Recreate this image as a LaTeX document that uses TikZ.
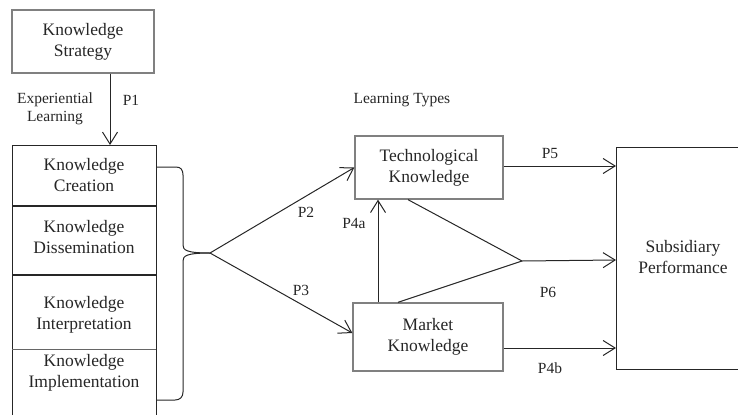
\documentclass[tikz,border=0pt]{standalone}
\usepackage{fontspec}
\setmainfont{Liberation Serif}
\usetikzlibrary{arrows.meta}
\begin{document}
\begin{tikzpicture}[x=1pt,y=-1pt,
  boxtext/.style={font=\fontsize{17.5}{21}\selectfont, align=center, text=black!85},
  graybox/.style={boxtext, draw=black!50, line width=1.3pt, inner sep=0pt},
  lbl/.style={font=\fontsize{15.5}{18}\selectfont, text=black!85},
  ln/.style={draw=black!85, line width=1pt},
  arr/.style={ln, -{Straight Barb[length=12pt,width=15pt,line width=1pt]}}]
\useasboundingbox (0,0) rectangle (738,415);

% top box
\node[graybox, minimum width=142pt, minimum height=63pt] (strat) at (83,41.5) {Knowledge\\Strategy};

% stacked knowledge-process column (open at the bottom)
\draw[ln] (12,415) -- (12,145) -- (156,145) -- (156,415);
\draw[ln, line width=1.4pt] (12,206) -- (156,206);
\draw[ln, line width=1.4pt] (12,275) -- (156,275);
\draw[draw=black!60, line width=0.9pt] (12,349) -- (156,349);
\coordinate (kbtop) at (110,145);
\node[boxtext] (create) at (84,175) {Knowledge\\Creation};
\node[boxtext] (dissem) at (84,237) {Knowledge\\Dissemination};
\node[boxtext] (interp) at (84,315) {Knowledge\\Interpretation};
\node[boxtext] (impl) at (84,373) {Knowledge\\Implementation};

% brace joining the four stages
\coordinate (j) at (210,253);
\draw[ln] (157,167) -- (176,167) .. controls (181,167) and (183,170) .. (183,175)
  -- (183,245) .. controls (183,250) and (186,253) .. (j);
\draw[ln] (j) .. controls (186,253) and (183,256) .. (183,261)
  -- (183,392) .. controls (183,397) and (180,400) .. (175,400) -- (157,400);

% learning-type boxes
\node[graybox, minimum width=148pt, minimum height=63pt] (tech) at (429,167.5) {Technological\\Knowledge};
\node[graybox, minimum width=150pt, minimum height=68pt] (market) at (428,337) {Market\\Knowledge};

% performance box (open to the right)
\draw[ln] (738,147) -- (616,147) -- (616,369) -- (738,369);
\node[boxtext] (perf) at (683,257) {Subsidiary\\Performance};
\coordinate (pin1) at (616,166);
\coordinate (pin2) at (616,260);
\coordinate (pin3) at (616,348);
\coordinate (mid) at (522,261);

% connectors
\draw[arr] (strat.south -| kbtop) -- (kbtop);
\draw[arr] (j) -- (tech.west);
\draw[arr] (j) -- ([yshift=4pt]market.west);
\draw[arr] (tech.east |- pin1) -- (pin1);
\draw[arr] (market.east |- pin3) -- (pin3);
\draw[arr] (market.north -| 378,0) -- (tech.south -| 378,0);
\draw[ln] (tech.south -| 408,0) -- (mid);
\draw[ln] (market.north -| 398,0) -- (mid);
\draw[arr] (mid) -- (pin2);

% labels
\node[lbl, align=center] (exp) at (55,109) {Experiential\\Learning};
\node[lbl] (p1) at (131,100) {P1};
\node[lbl, anchor=west] (ltypes) at (350,100) {Learning Types};
\node[lbl] (p2) at (306,212) {P2};
\node[lbl] (p3) at (301,290) {P3};
\node[lbl] (p4a) at (354,223) {P4a};
\node[lbl] (p5) at (550,153) {P5};
\node[lbl] (p6) at (548,292) {P6};
\node[lbl] (p4b) at (550,368) {P4b};
\end{tikzpicture}
\end{document}
